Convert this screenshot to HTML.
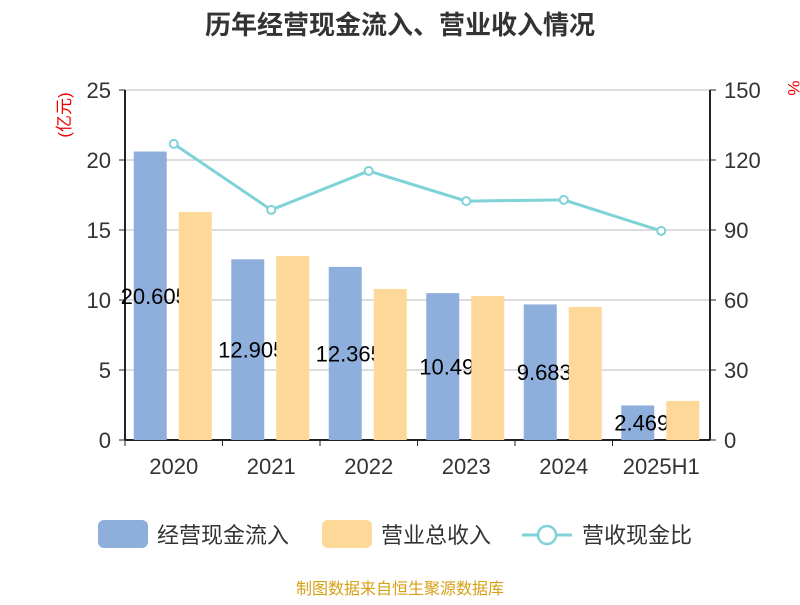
<!DOCTYPE html>
<html><head><meta charset="utf-8"><style>
body{margin:0;background:#fff;font-family:"Liberation Sans","Noto Sans CJK SC",sans-serif}
svg text{font-family:"Liberation Sans","Noto Sans CJK SC",sans-serif}
</style></head><body>
<svg id="c" width="800" height="600">
<text x="400" y="34" text-anchor="middle" font-size="26" font-weight="bold" fill="#333">历年经营现金流入、营业收入情况</text>
<text x="70" y="115" transform="rotate(-90 70 115)" text-anchor="middle" font-size="17" fill="#e00">(亿元)</text>
<text x="788" y="88" transform="rotate(90 788 88)" text-anchor="middle" font-size="17" fill="#e00">%</text>
<g id="grid"></g><g id="bars"></g><g id="line"></g>
<g>
<rect x="98" y="520" width="50" height="28" rx="6" fill="#8eaedb"/>
<text x="157" y="543" font-size="22" fill="#333">经营现金流入</text>
<rect x="322" y="520" width="50" height="28" rx="6" fill="#fed898"/>
<text x="381" y="543" font-size="22" fill="#333">营业总收入</text>
<line x1="522" y1="535" x2="572" y2="535" stroke="#7fd3d8" stroke-width="3"/>
<circle cx="547" cy="535" r="9" fill="#fff" stroke="#7fd3d8" stroke-width="2.5"/>
<text x="582" y="543" font-size="22" fill="#333">营收现金比</text>
</g>
<text x="400" y="594" text-anchor="middle" font-size="16" fill="#d4a017">制图数据来自恒生聚源数据库</text>
</svg>
<script>
const categories=["2020","2021","2022","2023","2024","2025H1"];
const cashInflow=[20.605,12.905,12.365,10.49,9.683,2.469];
const revenue=[16.29,13.14,10.79,10.29,9.5,2.79];
const ratio=[126.9,98.6,115.3,102.4,102.9,89.6];
const leftTicks=[0,5,10,15,20,25];
const rightTicks=[0,30,60,90,120,150];
const NS="http://www.w3.org/2000/svg";
const X0=125,X1=710,Y0=440,Y1=90;
const bw=(X1-X0)/categories.length;
const yL=v=>Y0-(v/25)*(Y0-Y1);
const yR=v=>Y0-(v/150)*(Y0-Y1);
const xC=i=>X0+bw*(i+0.5);
function mk(tag,attrs,parent){const e=document.createElementNS(NS,tag);for(const k in attrs)e.setAttribute(k,attrs[k]);parent.appendChild(e);return e;}
const grid=document.getElementById('grid'),bars=document.getElementById('bars'),line=document.getElementById('line');
leftTicks.forEach((t,i)=>{
 const y=yL(t);
 if(t>0){const g=mk('line',{x1:X0,x2:X1,y1:y,y2:y,stroke:'#bbb','stroke-width':1},grid);
 
 }
 const tk=mk('line',{x1:X0-6,x2:X0,y1:y,y2:y,stroke:'#222'},grid);
 
 
 const tx=mk('text',{x:X0-14,y:y+8,'text-anchor':'end','font-size':22,fill:'#333'},grid);tx.textContent=t;
 
 
});
rightTicks.forEach(t=>{
 const y=yR(t);
 const tk=mk('line',{x1:X1,x2:X1+6,y1:y,y2:y,stroke:'#222'},grid);
 
 
 const tx=mk('text',{x:X1+14,y:y+8,'font-size':22,fill:'#333'},grid);tx.textContent=t;
 
 
});
[[X0,Y1,X0,Y0],[X1,Y1,X1,Y0],[X0,Y0,X1,Y0]].forEach(a=>{
 const l=mk('line',{x1:a[0],y1:a[1],x2:a[2],y2:a[3],stroke:'#222','stroke-width':2},grid);
 
 
});
categories.forEach((c,i)=>{
 const xt=X0+bw*i;
 const tk=mk('line',{x1:xt,x2:xt,y1:Y0,y2:Y0+6,stroke:'#222'},grid);
 
 
 const tx=mk('text',{x:xC(i),y:Y0+34,'text-anchor':'middle','font-size':22,fill:'#333'},grid);tx.textContent=c;
 
 
});
const w=33;
categories.forEach((c,i)=>{
 const x=xC(i)-40;
 const b=mk('rect',{x:x,y:yL(cashInflow[i]),width:w,height:Y0-yL(cashInflow[i]),fill:'#8eaedb'},bars);
 
 
 const lb=mk('text',{x:x+w/2+4,y:(yL(cashInflow[i])+Y0)/2+8,'text-anchor':'middle','font-size':22,fill:'#000'},bars);lb.textContent=cashInflow[i];
 
 
});
categories.forEach((c,i)=>{
 const x=xC(i)+5;
 const b=mk('rect',{x:x,y:yL(revenue[i]),width:w,height:Y0-yL(revenue[i]),fill:'#fed898'},bars);
 
 
});
const pts=ratio.map((v,i)=>xC(i)+','+yR(v)).join(' ');
const pl=mk('polyline',{points:pts,fill:'none',stroke:'#7fd3d8','stroke-width':3},line);


ratio.forEach((v,i)=>{
 const p=mk('circle',{cx:xC(i),cy:yR(v),r:4,fill:'#fff',stroke:'#7fd3d8','stroke-width':2},line);
 
 
});
</script>
</body></html>
